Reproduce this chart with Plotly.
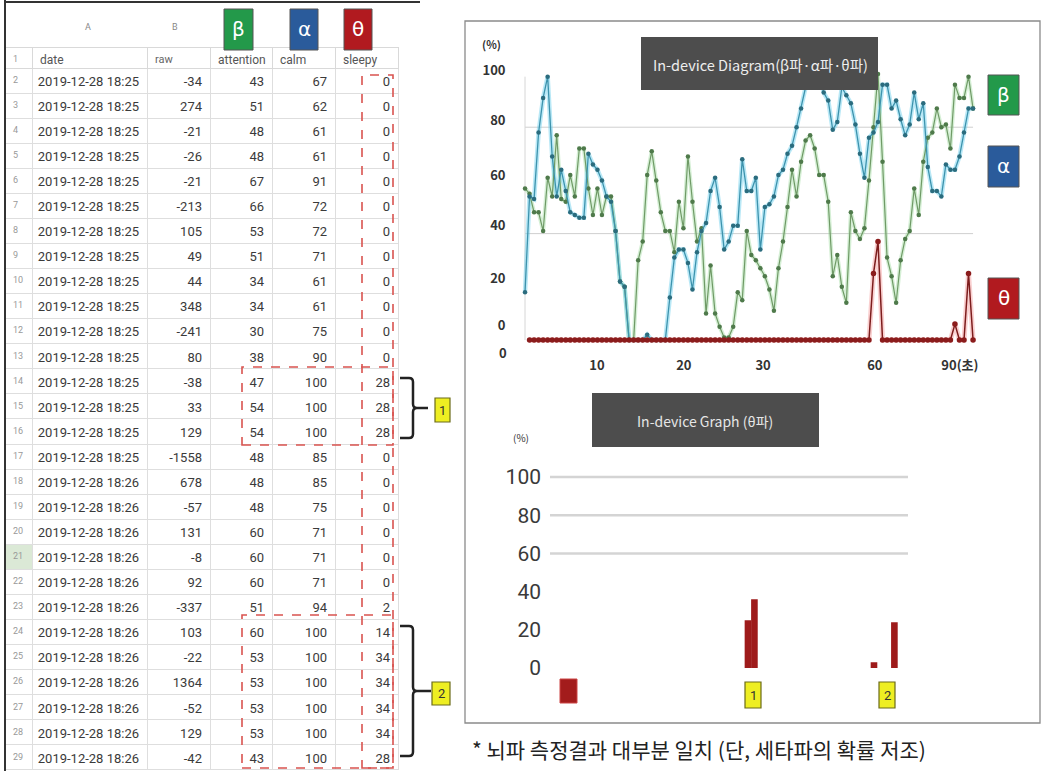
import plotly.graph_objects as go

W, H = 1042, 771
def fx(x):
    return x / W
def fy(y):
    return 1 - y / H

# ---------------- spreadsheet data ----------------
header_labels = ["1", "date", "raw", "attention", "calm", "sleepy"]
row_nums = list(range(2, 30))
dates = ["2019-12-28 18:25"] * 16 + ["2019-12-28 18:26"] * 12
raw = [-34, 274, -21, -26, -21, -213, 105, 49, 44, 348, -241, 80, -38, 33, 129,
       -1558, 678, -57, 131, -8, 92, -337, 103, -22, 1364, -52, 129, -42]
attention = [43, 51, 48, 48, 67, 66, 53, 51, 34, 34, 30, 38, 47, 54, 54,
             48, 48, 48, 60, 60, 60, 51, 60, 53, 53, 53, 53, 43]
calm = [67, 62, 61, 61, 91, 72, 72, 71, 61, 61, 75, 90, 100, 100, 100,
        85, 85, 75, 71, 71, 71, 94, 100, 100, 100, 100, 100, 100]
sleepy = [0] * 12 + [28, 28, 28] + [0] * 6 + [2, 14, 34, 34, 34, 34, 28]

# ---------------- in-device diagram (line chart) ----------------
beta = [57, 55, 48, 48, 41, 61, 54, 77, 53, 52, 62, 54, 72, 72, 57, 47, 57, 47, 54, 54,
        41, 22, 20, 0, 0, 30, 37, 62, 71, 60, 48, 41, 41, 33, 52, 42, 69, 52, 37, 42,
        10, 28, 10, 5, 1, 1, 5, 18, 15, 41, 32, 30, 27, 24, 19, 11, 27, 37, 50, 64,
        54, 67, 75, 77, 72, 62, 62, 52, 24, 32, 20, 14, 48, 41, 38, 42, 60, 80, 100, 67,
        31, 24, 14, 30, 38, 41, 57, 47, 67, 76, 78, 87, 80, 81, 72, 96, 91, 91, 99, 87]
alpha = [18, 54, 53, 78, 91, 99, 69, 54, 64, 56, 48, 47, 46, 46, 70, 66, 64, 60, 54, 52,
         41, 22, 20, 0, 0, 0, 0, 2, 0, 0, 0, 0, 16, 31, 34, 34, 29, 19, 33, 41,
         44, 56, 61, 50, 34, 37, 43, 43, 68, 56, 56, 61, 34, 50, 51, 54, 62, 64, 70, 73,
         80, 87, 95, 100, 102, 100, 93, 90, 79, 82, 95, 92, 89, 81, 70, 61, 76, 78, 82, 96,
         96, 87, 90, 83, 77, 81, 93, 83, 89, 65, 56, 56, 54, 66, 64, 64, 69, 78, 87, 87]
theta = [None] + [0] * 76 + [25, 37] + [0] * 16 + [6, 0, 0, 25, 0]
samples = list(range(len(beta)))

x_tick_pos = [15.9, 35.1, 52.6, 77.3, 96.1]
x_tick_text = ["10", "20", "30", "60", "90(초)"]
y_tick_pos = [5.6, 23.3, 43.2, 62.0, 82.7, 101.5]
y_tick_text = ["0", "20", "40", "60", "80", "100"]
grid_levels = [80, 40]

# ---------------- in-device graph (bar chart) ----------------
graph_t = [55.3, 57.1, 90.5, 96.2]
graph_theta = [25, 36, 3, 24]
bar_ticks = [0, 20, 40, 60, 80, 100]
bar_grid = [100, 80, 60]

fig = go.Figure()

# table
row_fill = ["#dbe9d6" if r == 21 else "white" for r in row_nums]
date_cells = [d.replace(" ", "\u00a0") for d in dates]
fig.add_trace(go.Table(
    domain=dict(x=[fx(5), fx(398)], y=[fy(771), fy(47)]),
    columnwidth=[27, 115, 63, 62, 63, 63],
    header=dict(values=header_labels, height=21, align="left",
                fill_color="white", line=dict(color="#d9d9d9", width=1),
                font=dict(family="Roboto", size=[9, 12, 11, 12, 12, 12],
                          color=["#999", "#555", "#666", "#555", "#555", "#555"])),
    cells=dict(values=[row_nums, date_cells, raw, attention, calm, sleepy], height=25.07,
               align=["left", "right", "right", "right", "right", "right"],
               fill_color=[row_fill, "white", "white", "white", "white", "white"],
               line=dict(color="#dedede", width=1),
               font=dict(family="Roboto", size=[9, 13, 13, 13, 13, 13],
                         color=["#999", "#3a3a3a", "#3a3a3a", "#3a3a3a", "#3a3a3a", "#3a3a3a"])),
))

# line chart glows
fig.add_trace(go.Scatter(x=samples, y=beta, mode="lines", line=dict(color="rgba(150,215,150,0.4)", width=4), hoverinfo="skip"))
fig.add_trace(go.Scatter(x=samples, y=alpha, mode="lines", line=dict(color="rgba(100,205,235,0.45)", width=4.5), hoverinfo="skip"))
fig.add_trace(go.Scatter(x=samples, y=theta, mode="lines", line=dict(color="rgba(240,120,120,0.35)", width=5), hoverinfo="skip"))
# line chart series
fig.add_trace(go.Scatter(x=samples, y=beta, mode="lines+markers", name="β",
                         line=dict(color="#6f9a66", width=1.2),
                         marker=dict(color="#4f7a4b", size=4.5)))
fig.add_trace(go.Scatter(x=samples, y=alpha, mode="lines+markers", name="α",
                         line=dict(color="#3d93ad", width=1.3),
                         marker=dict(color="#2b6c7e", size=4.5)))
fig.add_trace(go.Scatter(x=samples, y=theta, mode="lines+markers", name="θ",
                         line=dict(color="#7d1d1d", width=1.5),
                         marker=dict(color="#8b1c1c", size=5.5)))

# bar chart
fig.add_trace(go.Bar(x=graph_t, y=graph_theta, width=1.85, xaxis="x2", yaxis="y2",
                     marker=dict(color="#9e1b1b", line=dict(width=0))))

shapes = []
# outer frame (left/top)
shapes.append(dict(type="line", xref="paper", yref="paper", x0=fx(5), x1=fx(5), y0=fy(0), y1=fy(771), line=dict(color="#333", width=2)))
shapes.append(dict(type="line", xref="paper", yref="paper", x0=fx(5), x1=fx(420), y0=fy(2), y1=fy(2), line=dict(color="#333", width=2)))
# right panel border
shapes.append(dict(type="rect", xref="paper", yref="paper", x0=fx(465), x1=fx(1040), y0=fy(723), y1=fy(21), line=dict(color="#8a8a8a", width=1.3)))
# line chart grid / axis
for g in grid_levels:
    shapes.append(dict(type="line", xref="x", yref="y", x0=samples[0], x1=samples[-1], y0=g, y1=g, line=dict(color="#cfcfcf", width=1), layer="below"))
shapes.append(dict(type="line", xref="x", yref="y", x0=samples[0], x1=samples[0], y0=0, y1=99, line=dict(color="#d6d6d6", width=1), layer="below"))
# line chart title box
shapes.append(dict(type="rect", xref="paper", yref="paper", x0=fx(641), x1=fx(878), y0=fy(90), y1=fy(37), fillcolor="#4d4d4d", line=dict(width=0), layer="above"))
# legend boxes
for (y0, y1, col) in [(75, 115, "#23994a"), (146, 187, "#2a5b9b"), (278, 319, "#b11a1f")]:
    shapes.append(dict(type="rect", xref="paper", yref="paper", x0=fx(988), x1=fx(1019), y0=fy(y1), y1=fy(y0), fillcolor=col, line=dict(color="#555", width=1)))
# table header icons
for (x0, x1, col) in [(224, 253, "#23994a"), (290, 318, "#2a5b9b"), (344, 372, "#b11a1f")]:
    shapes.append(dict(type="rect", xref="paper", yref="paper", x0=fx(x0), x1=fx(x1), y0=fy(50), y1=fy(9), fillcolor=col, line=dict(color="#555", width=1)))
# bar chart grid
for g in bar_grid:
    shapes.append(dict(type="line", xref="x2 domain", yref="y2", x0=0, x1=1, y0=g, y1=g, line=dict(color="#d4d4d4", width=2.5), layer="below"))
# bar chart title box
shapes.append(dict(type="rect", xref="paper", yref="paper", x0=fx(592), x1=fx(819), y0=fy(447), y1=fy(393), fillcolor="#4d4d4d", line=dict(width=0)))
# red square icon
shapes.append(dict(type="rect", xref="paper", yref="paper", x0=fx(560), x1=fx(577), y0=fy(703), y1=fy(679), fillcolor="#a31c1c", line=dict(color="#c44", width=1)))
# yellow labels
yellow_boxes = [(745, 761, 682, 708, "1"), (879, 895, 682, 708, "2"), (435, 450, 398, 422, "1"), (432, 450, 682, 705, "2")]
for (x0, x1, y0, y1, _) in yellow_boxes:
    shapes.append(dict(type="rect", xref="paper", yref="paper", x0=fx(x0), x1=fx(x1), y0=fy(y1), y1=fy(y0), fillcolor="#eeee22", line=dict(color="#6b6b1a", width=1.2)))
# red dashed boxes
for (x0, x1, y0, y1) in [(362, 393, 75, 768), (242, 393, 367, 445), (242, 393, 615, 768)]:
    shapes.append(dict(type="rect", xref="paper", yref="paper", x0=fx(x0), x1=fx(x1), y0=fy(y1), y1=fy(y0), line=dict(color="#d9534f", width=1.6, dash="dash")))

# braces
def brace(top, bot, left, spine, tip):
    mid = (top + bot) / 2
    p = lambda x, y: f"{fx(x):.5f},{fy(y):.5f}"
    return (f"M {p(left, top)} L {p(spine - 4, top)} Q {p(spine, top)} {p(spine, top + 4)} "
            f"L {p(spine, mid - 4)} Q {p(spine, mid)} {p(spine + 4, mid)} L {p(tip, mid)} "
            f"M {p(spine + 4, mid)} Q {p(spine, mid)} {p(spine, mid + 4)} "
            f"L {p(spine, bot - 4)} Q {p(spine, bot)} {p(spine - 4, bot)} L {p(left, bot)}")
shapes.append(dict(type="path", xref="paper", yref="paper", path=brace(378, 438, 400, 413, 428), line=dict(color="#222", width=2.5)))
shapes.append(dict(type="path", xref="paper", yref="paper", path=brace(626, 756, 400, 413, 431), line=dict(color="#222", width=2.5)))

ann = []
def text(x, y, s, size, color="#333", anchor="center", family="Noto Sans CJK KR", weight="normal"):
    ann.append(dict(x=fx(x), y=fy(y), xref="paper", yref="paper", text=s, showarrow=False,
                    xanchor=anchor, yanchor="middle", font=dict(size=size, color=color, family=family, weight=weight)))

text(760, 64, "In-device Diagram(β파·α파·θ파)", 14.5, "#eeeeee")
text(705, 421, "In-device Graph (θ파)", 14, "#e6e6e6")
text(491, 44, "(%)", 11, "#333", weight="bold")
text(521, 437, "(%)", 10, "#333")
text(503, 353, "0", 13, "#333", weight="bold")
for (yc, s) in [(95, "β"), (166, "α"), (298, "θ")]:
    text(1003.5, yc, s, 20, "white", family="DejaVu Sans")
for (xc, s) in [(238.5, "β"), (304, "α"), (358, "θ")]:
    text(xc, 29, s, 20, "white", family="DejaVu Sans")
text(88, 27, "A", 9, "#888", family="Roboto")
text(175, 27, "B", 9, "#888", family="Roboto")
for (x0, x1, y0, y1, s) in yellow_boxes:
    text((x0 + x1) / 2, (y0 + y1) / 2, s, 13, "#333", family="Roboto")
text(470, 749, "* 뇌파 측정결과 대부분 일치 (단, 세타파의 확률 저조)", 21, "#222", anchor="left")

fig.update_layout(
    width=W, height=H, autosize=False,
    margin=dict(l=0, r=0, t=0, b=0),
    paper_bgcolor="white", plot_bgcolor="rgba(0,0,0,0)",
    showlegend=False,
    shapes=shapes, annotations=ann,
    xaxis=dict(domain=[fx(520.5), fx(982.1)], range=[-1, 101], showgrid=False, zeroline=False, showline=False,
               tickmode="array", tickvals=x_tick_pos, ticktext=x_tick_text, ticks="",
               tickfont=dict(size=13, color="#333", family="Noto Sans CJK KR", weight="bold")),
    yaxis=dict(domain=[fy(356), fy(60.7)], range=[-6, 105], showgrid=False, zeroline=False, showline=False,
               tickmode="array", tickvals=y_tick_pos, ticktext=y_tick_text, ticks="", ticklabelstandoff=14,
               tickfont=dict(size=13, color="#333", family="Noto Sans CJK KR", weight="bold")),
    xaxis2=dict(domain=[fx(550), fx(908)], range=[0, 100], visible=False, anchor="y2"),
    yaxis2=dict(domain=[fy(706.2), fy(457.9)], range=[-20, 110], showgrid=False, zeroline=False, showline=False,
                tickmode="array", tickvals=bar_ticks, ticks="", ticklabelstandoff=8, anchor="x2",
                tickfont=dict(size=21, color="#3a3a3a", family="Roboto")),
)

fig.write_html("out.html", config={"displayModeBar": False},
               post_script="document.body.style.margin='0';document.body.style.overflow='hidden';")
